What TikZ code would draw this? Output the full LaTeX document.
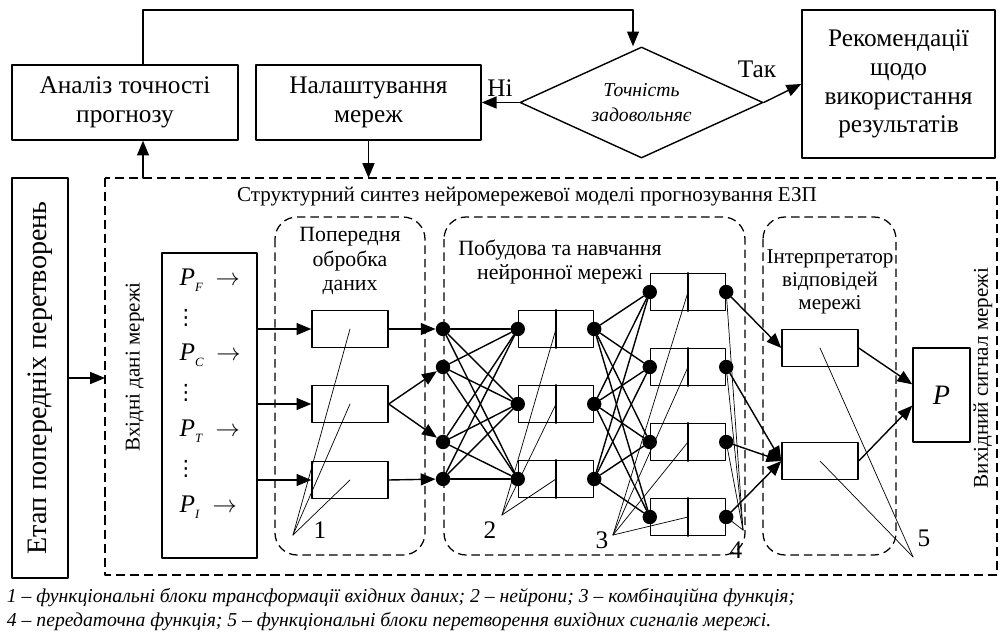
\documentclass[tikz,border=0pt]{standalone}
\usepackage{fontspec}
\setmainfont{Liberation Serif}
\newfontfamily\symfont{DejaVu Sans}
\usetikzlibrary{arrows.meta}
\usetikzlibrary{shapes.geometric}
\newcommand{\insig}[1]{\textit{P}\raisebox{-0.5ex}{\small\textit{#1}}\ \ $\rightarrow$}

\begin{document}
\begin{tikzpicture}[line cap=round,line join=round,>={Triangle[length=10.5pt,width=8.5pt]},x=0.025cm,y=-0.025cm,
  font=\fontsize{18}{20.5}\selectfont,
  blk/.style={draw,line width=1pt,align=center,inner sep=2pt},
  fblk/.style={draw,line width=1pt,minimum width=1.9cm,minimum height=0.925cm},
  nrn/.style={draw,line width=1pt,minimum width=1.875cm,minimum height=0.925cm},
  dot/.style={circle,fill,inner sep=0pt,minimum size=0.36cm},
  frame/.style={line width=1.6pt,line cap=butt,dash pattern=on 6.5pt off 3.5pt},
  grp/.style={line width=0.9pt,line cap=butt,dash pattern=on 6pt off 3.5pt,rounded corners=0.55cm},
  link/.style={line width=1pt},
  arr/.style={line width=1pt,->},
  ptr/.style={line width=0.5pt},
  small/.style={font=\fontsize{15.5}{17.5}\selectfont,align=center}]
\useasboundingbox (0,0) rectangle (1000,635);

% top row
\node[blk,minimum width=5.65cm,minimum height=1.875cm] (acc) at (125,102.5) {Аналіз точності\\прогнозу};
\node[blk,minimum width=5.625cm,minimum height=1.875cm] (tune) at (368.5,102.5) {Налаштування\\мереж};
\node[draw,line width=1pt,diamond,aspect=2.2,inner sep=0pt,minimum width=6.075cm,minimum height=2.775cm,
  font=\fontsize{14}{18}\selectfont\itshape,align=center] (check) at (641.5,102.5) {Точність\\задовольняє};
\node[blk,minimum width=4.825cm,minimum height=3.7cm,font=\fontsize{18}{20.5}\selectfont] (rec) at (898.5,84) {Рекомендації\\щодо\\використання\\результатів};
\node (no) at (500,88) {Ні};
\node (yes) at (757,69) {Так};
\coordinate (accport) at (143,0);
\coordinate (chkport) at (633,0);

% outer frame
\coordinate (frameNW) at (105,178);
\draw[frame] (frameNW) rectangle (997,575);
\node[font=\fontsize{15}{17}\selectfont] (title) at (527,197) {Структурний синтез нейромережевої моделі прогнозування ЕЗП};

\draw[arr] (acc.north -| accport) -- (accport |- 0,10) -| (check.north -| chkport);
\draw[arr] (accport |- frameNW) -- (acc.south -| accport);
\draw[arr] (tune.south) -- (tune.south |- frameNW);
\draw[arr] (check.west) -- (tune.east);
\draw[arr] (check.east) -- (rec.west);

% stage of transformations
\node[blk,minimum width=1.4cm,minimum height=10cm] (stage) at (40,378) {};
\node[rotate=90,font=\fontsize{20}{22}\selectfont] (stagetxt) at (stage) {Етап попередніх перетворень};
\draw[arr] (stage.east) -- (stage.east -| frameNW);

% network inputs
\node[rotate=90,font=\fontsize{15}{17}\selectfont] (intxt) at (135,367) {Вхідні дані мережі};
\node[blk,minimum width=2.375cm,minimum height=7.625cm] (inp) at (209.5,405.5) {};
\node[anchor=west,inner sep=1pt] (pf) at (178,280) {\insig{F}};
\node[anchor=west,inner sep=1pt] (pc) at (178,355) {\insig{C}};
\node[anchor=west,inner sep=1pt] (pt) at (178,431) {\insig{T}};
\node[anchor=west,inner sep=1pt] (pi) at (178,507) {\insig{I}};
\foreach \yy in {318,393,469}
  \node[inner sep=0pt,font=\symfont\fontsize{15}{16}\selectfont] (dots\yy) at (186,\yy) {⋮};

% preprocessing
\draw[grp] (275,217) rectangle (425,555);
\node[small] (pretxt) at (350,261) {Попередня\\обробка\\даних};
\foreach \k/\yy in {1/329,2/404,3/480} {
  \node[fblk] (pre\k) at (350,\yy) {};
  \draw[arr] (inp.east |- pre\k) -- (pre\k.west);
}

% neural network
\draw[grp] (444,217) rectangle (745,555);
\node[small] (nntxt) at (560,262) {Побудова та навчання\\нейронної мережі};
\foreach \k/\yy in {1/329,2/367,3/442,4/479}
  \node[dot] (i\k) at (443,\yy) {};
\foreach \k/\yy in {1/329,2/404,3/479} {
  \node[nrn] (h\k) at (556,\yy) {};
  \draw[line width=1pt] (h\k.north) -- (h\k.south);
  \node[dot] (hl\k) at (h\k.west) {};
  \node[dot] (hr\k) at (h\k.east) {};
}
\foreach \k/\yy in {1/292,2/367,3/442,4/517} {
  \node[nrn] (g\k) at (688,\yy) {};
  \draw[line width=1pt] (g\k.north) -- (g\k.south);
  \node[dot] (gl\k) at (g\k.west) {};
  \node[dot] (gr\k) at (g\k.east) {};
}
\foreach \a in {1,...,4}
  \foreach \b in {1,2,3}
    \draw[link] (i\a) -- (hl\b);
\foreach \a in {1,2,3}
  \foreach \b in {1,...,4}
    \draw[link] (hr\a) -- (gl\b);
\draw[arr] (pre1.east) -- (i1);
\draw[arr] (pre2.east) -- (i2);
\draw[arr] (pre2.east) -- (i3);
\draw[arr] (pre3.east) -- (i4);

% interpreter
\draw[grp] (763,217) rectangle (896,555);
\node[small,font=\fontsize{15}{16.5}\selectfont] (inttxt) at (830,282) {Інтерпретатор\\відповідей\\мережі};
\node[fblk] (int1) at (820,348) {};
\node[fblk] (int2) at (820,461) {};
\draw[arr] (gr1) -- (int1.west);
\foreach \k in {2,3,4}
  \draw[arr] (gr\k) -- (int2.west);

% output
\node[blk,minimum width=1.425cm,minimum height=2.35cm,font=\fontsize{20}{22}\selectfont\itshape] (out) at (941.5,395) {P};
\draw[arr] (int1.east) -- (out.160);
\draw[arr] (int2.east) -- (out.200);
\node[rotate=90,font=\fontsize{15}{17}\selectfont] (outtxt) at (983,378) {Вихідний сигнал мережі};

% callouts
\coordinate (c1) at (293,535);
\coordinate (c2) at (502,515);
\coordinate (c3) at (613,535);
\coordinate (c4) at (743,530);
\coordinate (c5) at (913,557);
\foreach \k in {1,2,3} {
  \draw[ptr] (c1) -- (pre\k.center);
  \draw[ptr] (c2) -- (h\k.center);
}
\foreach \k in {1,...,4} {
  \draw[ptr] (c3) -- (g\k.center);
  \draw[ptr] (c4) -- (gr\k.center);
}
\foreach \k in {1,2}
  \draw[ptr] (c5) -- (int\k.center);
\node (n1) at (320,530) {1};
\node (n2) at (490,530) {2};
\node (n3) at (602,540) {3};
\node (n4) at (736,550) {4};
\node (n5) at (924,538) {5};

% caption
\node[anchor=west,font=\fontsize{14}{16}\selectfont\itshape] (cap1) at (2,598) {1 – функціональні блоки трансформації вхідних даних; 2 – нейрони; 3 – комбінаційна функція;};
\node[anchor=west,font=\fontsize{14}{16}\selectfont\itshape] (cap2) at (2,622) {4 – передаточна функція; 5 – функціональні блоки перетворення вихідних сигналів мережі.};
\end{tikzpicture}
\end{document}
